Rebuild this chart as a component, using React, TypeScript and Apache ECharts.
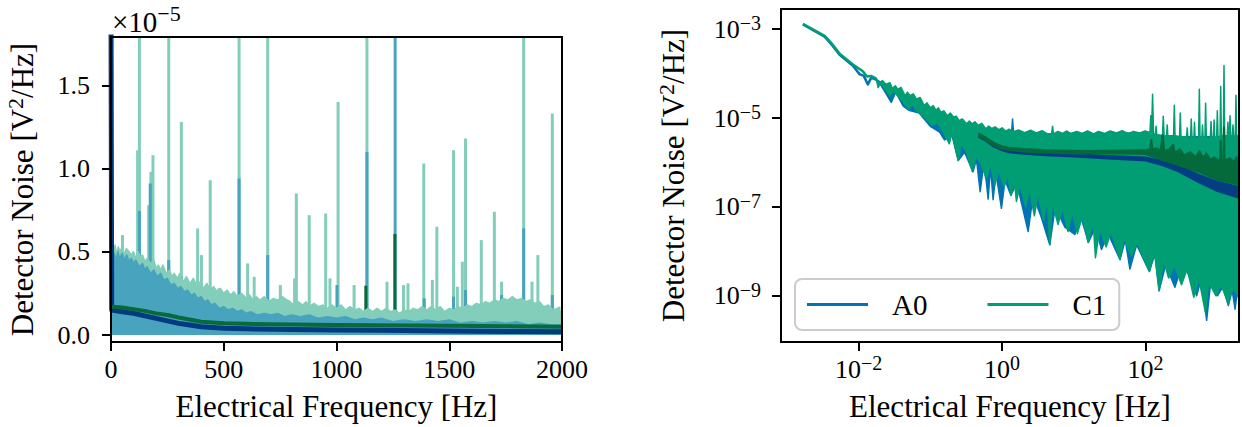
import React, { useEffect, useRef } from "react";
import * as echarts from "echarts";

const FONT = '"Liberation Serif", "Times New Roman", serif';

// ---------- Left panel (linear), values in units of 1e-5 V^2/Hz ----------
const c1FloorLin: number[][] = [[0,0.65],[4,0.52],[8,0.55],[12,0.50],[18,0.54],[25,0.48],[32,0.53],[40,0.50],[46,0.52],[60,0.49],[68,0.52],[80,0.50],[90,0.48],[100,0.50],[110,0.46],[120,0.50],[130,0.47],[140,0.48],[150,0.44],[160,0.46],[175,0.43],[190,0.45],[200,0.40],[210,0.42],[220,0.39],[230,0.42],[245,0.37],[260,0.39],[270,0.35],[280,0.37],[295,0.34],[305,0.37],[320,0.32],[335,0.35],[350,0.31],[365,0.34],[380,0.30],[395,0.32],[410,0.28],[425,0.31],[440,0.27],[455,0.29],[470,0.26],[485,0.28],[500,0.25],[515,0.27],[530,0.24],[545,0.26],[560,0.23],[580,0.25],[600,0.22],[615,0.24],[630,0.21],[645,0.23],[660,0.21],[680,0.23],[700,0.20],[720,0.22],[740,0.21],[760,0.23],[780,0.21],[795,0.20],[810,0.18],[830,0.20],[850,0.18],[865,0.20],[880,0.17],[900,0.19],[920,0.17],[940,0.18],[960,0.16],[980,0.18],[1000,0.16],[1020,0.18],[1040,0.15],[1060,0.17],[1080,0.15],[1100,0.16],[1120,0.14],[1140,0.16],[1160,0.14],[1180,0.16],[1200,0.14],[1220,0.16],[1240,0.14],[1260,0.15],[1280,0.13],[1300,0.15],[1320,0.14],[1340,0.16],[1360,0.15],[1380,0.17],[1400,0.15],[1420,0.17],[1440,0.15],[1460,0.17],[1480,0.14],[1500,0.16],[1520,0.15],[1540,0.17],[1560,0.16],[1580,0.18],[1600,0.17],[1620,0.19],[1640,0.18],[1660,0.20],[1680,0.19],[1700,0.21],[1720,0.20],[1740,0.22],[1760,0.21],[1780,0.23],[1800,0.21],[1820,0.22],[1840,0.20],[1860,0.21],[1880,0.19],[1900,0.20],[1920,0.17],[1940,0.18],[1960,0.15],[1980,0.16],[2000,0.13]];
const c1SpikesLin: number[][] = [[51,0.60],[118,1.11],[126,2.0],[167,0.78],[177,0.98],[186,1.08],[256,2.0],[312,1.28],[384,0.64],[401,0.48],[440,0.93],[478,0.28],[568,2.0],[606,0.43],[635,0.35],[695,2.0],[751,0.30],[814,0.34],[822,0.85],[879,0.72],[952,0.73],[971,0.34],[1007,1.40],[1078,0.30],[1135,2.0],[1224,0.32],[1297,0.30],[1317,0.31],[1387,1.03],[1425,0.33],[1445,0.65],[1519,1.11],[1536,0.29],[1558,0.44],[1572,1.18],[1642,0.57],[1700,0.74],[1732,0.32],[1830,2.0],[1867,0.32],[1893,0.48],[1957,1.33],[1987,0.17]];
const a0FloorLin: number[][] = [[0,0.60],[5,0.48],[10,0.45],[15,0.49],[22,0.44],[30,0.50],[38,0.46],[50,0.49],[58,0.45],[70,0.48],[80,0.44],[90,0.46],[100,0.43],[110,0.45],[125,0.41],[140,0.43],[150,0.39],[160,0.41],[175,0.37],[190,0.39],[205,0.35],[220,0.37],[235,0.33],[250,0.34],[265,0.30],[280,0.31],[295,0.28],[310,0.29],[325,0.26],[340,0.27],[355,0.24],[370,0.25],[385,0.22],[400,0.23],[415,0.20],[430,0.21],[445,0.18],[460,0.19],[480,0.16],[500,0.17],[520,0.15],[540,0.16],[560,0.14],[580,0.15],[600,0.13],[620,0.14],[650,0.12],[680,0.13],[710,0.12],[740,0.13],[770,0.11],[800,0.12],[840,0.11],[880,0.12],[920,0.10],[960,0.11],[1000,0.10],[1040,0.11],[1080,0.09],[1120,0.10],[1160,0.09],[1200,0.10],[1250,0.08],[1300,0.09],[1350,0.08],[1400,0.09],[1450,0.08],[1500,0.09],[1550,0.07],[1600,0.08],[1650,0.07],[1700,0.08],[1750,0.07],[1800,0.08],[1850,0.06],[1900,0.07],[1950,0.06],[2000,0.06]];
const a0SpikesLin: number[][] = [[126,0.745],[174,0.91],[184,0.42],[256,0.45],[312,0.35],[568,0.94],[695,0.48],[1002,0.30],[1135,1.10],[1260,2.0],[1389,0.22],[1519,0.23],[1572,0.27],[1732,0.24],[1830,0.64],[1957,0.24]];
const a0SmoothLin: number[][] = [[0,2.0],[3,0.15],[50,0.14],[100,0.13],[150,0.115],[200,0.10],[250,0.085],[300,0.07],[350,0.06],[400,0.05],[500,0.04],[600,0.037],[800,0.033],[1000,0.03],[1200,0.028],[1500,0.024],[1800,0.021],[2000,0.02]];
const c1SmoothSpikesLin: number[][] = [[126,0.305],[175,0.395],[186,0.216],[254,0.21],[306,0.19],[383,0.137],[401,0.167],[566,0.14],[603,0.15],[692,0.167],[821,0.11],[876,0.12],[949,0.13],[1002,0.157],[1130,0.296],[1219,0.12],[1259,0.607],[1442,0.107],[1512,0.137],[1558,0.137],[1571,0.15],[1645,0.09],[1727,0.11],[1826,0.107],[1864,0.117],[1950,0.1]];
const c1SmoothLin: number[][] = [[0,0.17],[50,0.165],[100,0.155],[150,0.145],[200,0.13],[250,0.12],[300,0.105],[400,0.08],[500,0.07],[700,0.065],[1000,0.06],[1500,0.055],[2000,0.05]];
const linYTicks = [0, 0.5, 1.0, 1.5];

// ---------- Right panel (log-log), [Hz, V^2/Hz] ----------
const a0LowLine: number[][] = [[0.00168,1.27e-3],[0.00337,6.8e-4],[0.00418,4.6e-4],[0.00545,2.65e-4],[0.00836,1.5e-4],[0.0104,9.6e-5],[0.0118,9.0e-5],[0.0135,5.7e-5],[0.0150,8.0e-5],[0.0177,7.3e-5]];
const c1LowLine: number[][] = [[0.00168,1.31e-3],[0.00337,7.1e-4],[0.00418,4.86e-4],[0.00545,2.81e-4],[0.00836,1.6e-4],[0.0115,1.13e-4],[0.0131,8.6e-5],[0.0151,8.8e-5],[0.0177,7.7e-5]];
const a0BandTop: number[][] = [[0.0177,7.3e-5],[0.024,5.5e-5],[0.0307,4.2e-5],[0.0446,3.0e-5],[0.0644,2.5e-5],[0.0824,1.7e-5],[0.12,1.5e-5],[0.173,1.05e-5],[0.25,8.3e-6],[0.32,7.0e-6],[0.47,6.6e-6],[0.6,5.4e-6],[0.86,5.6e-6],[1.3,5.0e-6],[1.36,5.0e-6],[1.40,9.5e-6],[1.44,5.0e-6],[2.05,4.6e-6],[4.3,4.3e-6],[9,4.4e-6],[19,4.2e-6],[40,4.6e-6],[83,4.5e-6],[120,4.2e-6],[300,3.8e-6],[800,3.8e-6],[2000,3.5e-6]];
const a0BandBottom: number[][] = [[0.0177,7.0e-5],[0.0205,5.5e-5],[0.0286,2.24e-5],[0.033,3.8e-5],[0.0417,1.88e-5],[0.05,1.5e-5],[0.07,1.3e-5],[0.1,6.5e-6],[0.135,4.8e-6],[0.158,3.2e-6],[0.2,4.2e-6],[0.245,1.1e-6],[0.3,1.7e-6],[0.394,6.2e-7],[0.44,1.2e-6],[0.495,2.2e-7],[0.55,8e-7],[0.6,4.0e-7],[0.64,1.5e-7],[0.69,8e-7],[0.75,1.45e-7],[0.82,6e-7],[0.98,9.3e-8],[1.1,4e-7],[1.33,1.8e-7],[1.6,3.5e-7],[2.31,2.8e-8],[2.7,1.8e-7],[3.5,6e-8],[4.62,1.4e-8],[5.5,1.0e-7],[7.5,3.5e-8],[10.3,2.4e-8],[12.5,6e-8],[16,1.6e-8],[20,3.5e-8],[24.3,1.1e-8],[30,2.5e-8],[44,6.5e-9],[52,1.8e-8],[60.4,4.0e-9],[75,1.4e-8],[113,3.5e-9],[135,9e-9],[154,1.3e-9],[190,5e-9],[256,1.55e-9],[300,3.5e-9],[380,3.5e-9],[514,1.0e-9],[600,2.5e-9],[708,2.8e-10],[800,1.8e-9],[1000,1.0e-9],[1200,1.6e-9],[1419,6.0e-10],[1600,1.4e-9],[1762,5.0e-10],[1900,1.3e-9],[2000,8e-10]];
const c1BandTop: number[][] = [[0.0177,7.7e-5],[0.0195,6.0e-5],[0.0215,7.0e-5],[0.024,5.75e-5],[0.0275,6.2e-5],[0.0295,4.6e-5],[0.0325,5.3e-5],[0.0355,4.4e-5],[0.039,4.9e-5],[0.0446,3.16e-5],[0.048,3.8e-5],[0.052,3.2e-5],[0.058,3.5e-5],[0.0644,2.65e-5],[0.072,2.9e-5],[0.0824,1.9e-5],[0.09,2.2e-5],[0.1,1.7e-5],[0.11,1.9e-5],[0.1197,1.5e-5],[0.13,1.7e-5],[0.14,1.35e-5],[0.155,1.45e-5],[0.173,1.12e-5],[0.19,1.3e-5],[0.21,1.05e-5],[0.23,1.1e-5],[0.251,8.7e-6],[0.28,9.5e-6],[0.321,7.4e-6],[0.35,8.6e-6],[0.38,7.4e-6],[0.42,8.2e-6],[0.466,6.8e-6],[0.52,7.6e-6],[0.596,5.7e-6],[0.65,6.6e-6],[0.72,5.8e-6],[0.8,6.3e-6],[0.9,5.4e-6],[1.0,6.0e-6],[1.12,5.0e-6],[1.25,5.6e-6],[1.45,4.9e-6],[1.7,5.4e-6],[2.05,4.7e-6],[2.5,5.3e-6],[3,4.6e-6],[3.6,5.2e-6],[4.3,4.4e-6],[4.9,4.4e-6],[5.05,6.5e-6],[5.2,4.4e-6],[6,5.0e-6],[7,4.5e-6],[8,5.1e-6],[9,4.5e-6],[11,5.0e-6],[13,4.5e-6],[15.5,5.1e-6],[18.9,4.4e-6],[22,5.0e-6],[27,4.5e-6],[32,5.1e-6],[39.6,4.6e-6],[47,5.2e-6],[57,4.5e-6],[68,5.0e-6],[83,4.6e-6],[98,5.1e-6],[115,4.7e-6],[118,1.12e-5],[121,5.0e-6],[125,3.43e-5],[129,4.5e-6],[137,4.2e-6],[140,6.5e-6],[143,4.2e-6],[172,4.0e-6],[176,1.1e-5],[181,4.0e-6],[196,4.0e-6],[200,7.0e-6],[204,4.0e-6],[245,4.0e-6],[251,1.95e-5],[257,4.0e-6],[297,3.8e-6],[304,1.29e-5],[311,3.8e-6],[372,3.8e-6],[380,6.0e-6],[388,3.6e-6],[423,3.5e-6],[432,9.5e-6],[443,3.5e-6],[470,3.5e-6],[480,8.0e-6],[490,3.5e-6],[547,3.5e-6],[560,4.44e-5],[573,3.5e-6],[607,3.5e-6],[620,7.0e-6],[633,3.5e-6],[670,3.5e-6],[685,2.16e-5],[701,3.5e-6],[796,3.5e-6],[815,8.3e-6],[834,3.5e-6],[880,3.5e-6],[900,9.0e-6],[920,3.5e-6],[975,3.5e-6],[998,1.45e-5],[1021,3.6e-6],[1089,4.0e-6],[1112,5.1e-5],[1135,4.0e-6],[1211,4.0e-6],[1236,1.52e-4],[1262,4.0e-6],[1370,4.0e-6],[1400,8.0e-6],[1430,4.0e-6],[1469,4.0e-6],[1500,1.12e-5],[1531,4.0e-6],[1615,4.0e-6],[1650,7.0e-6],[1685,4.0e-6],[1778,4.0e-6],[1816,3.26e-5],[1854,4.0e-6],[2000,4.0e-6]];
const c1BandBottom: number[][] = [[0.0177,7.4e-5],[0.01875,4.83e-5],[0.0204,6.3e-5],[0.0272,3.16e-5],[0.0302,4.0e-5],[0.0393,2.65e-5],[0.0504,1.58e-5],[0.0562,2.0e-5],[0.066,1.41e-5],[0.0794,1.12e-5],[0.1054,6.8e-6],[0.126,7.9e-6],[0.153,4.8e-6],[0.184,2.63e-6],[0.2,4.5e-6],[0.245,1.12e-6],[0.269,2.8e-6],[0.316,1.78e-6],[0.386,6.2e-7],[0.427,1.41e-6],[0.5,1.0e-6],[0.603,4.5e-7],[0.69,8.9e-7],[0.794,3.1e-7],[0.89,7.1e-7],[1.07,2.8e-7],[1.2,5.6e-7],[1.33,1.85e-7],[1.48,4.0e-7],[1.585,1.32e-7],[1.78,3.2e-7],[2.14,1.0e-7],[2.4,2.5e-7],[2.82,6.3e-8],[3.16,2.0e-7],[3.8,5.0e-8],[4.27,1.58e-7],[4.62,1.41e-8],[5.0,1.26e-7],[6.03,4.0e-8],[6.9,1.0e-7],[8.3,2.8e-8],[9.55,7.9e-8],[11.2,2.5e-8],[13.2,6.3e-8],[15.8,1.58e-8],[18.6,4.5e-8],[20,7.2e-9],[22.9,3.2e-8],[28.2,1.26e-8],[33.1,2.8e-8],[43.8,6.6e-9],[50,2.0e-8],[63,7.9e-9],[76,1.58e-8],[113,3.6e-9],[132,1.0e-8],[154,1.3e-9],[178,6.3e-9],[209,2.5e-9],[251,5.0e-9],[316,1.78e-9],[380,4.0e-9],[469,9.2e-10],[550,2.5e-9],[679,4.3e-10],[759,2.0e-9],[955,1.0e-9],[1122,1.78e-9],[1429,6.5e-10],[1660,1.58e-9],[2000,9.2e-10]];
const a0SmoothTop: number[][] = [[0.48,4.3e-6],[0.6,3.5e-6],[0.76,2.65e-6],[1,2.15e-6],[1.25,1.95e-6],[2,1.78e-6],[4,1.65e-6],[10,1.55e-6],[30,1.4e-6],[100,1.3e-6],[175,1.07e-6],[286,8.4e-7],[531,5.4e-7],[984,3.7e-7],[2000,2.8e-7]];
const a0SmoothBottom: number[][] = [[0.48,3.7e-6],[0.6,3.05e-6],[0.76,2.3e-6],[1,1.88e-6],[1.25,1.7e-6],[2,1.56e-6],[4,1.45e-6],[10,1.36e-6],[30,1.22e-6],[100,1.1e-6],[175,8.6e-7],[286,6.3e-7],[531,3.7e-7],[984,2.3e-7],[2000,1.6e-7]];
const c1SmoothTop: number[][] = [[0.48,4.4e-6],[0.6,3.6e-6],[0.76,2.8e-6],[1,2.3e-6],[1.25,2.15e-6],[2,2.0e-6],[3.8,1.9e-6],[13,1.82e-6],[45,1.85e-6],[100,1.9e-6],[115,1.95e-6],[120,3.2e-6],[124,1.95e-6],[140,2.1e-6],[160,1.8e-6],[173,4.1e-6],[182,1.8e-6],[215,2.0e-6],[243,2.5e-6],[255,1.6e-6],[301,2.0e-6],[340,1.45e-6],[420,1.7e-6],[500,1.3e-6],[560,1.8e-6],[640,1.25e-6],[700,1.6e-6],[800,1.15e-6],[900,1.3e-6],[1090,1.05e-6],[1112,3.1e-6],[1135,1.05e-6],[1211,1.1e-6],[1236,6.2e-6],[1262,1.1e-6],[1500,1.25e-6],[1700,1.0e-6],[1850,1.3e-6],[2000,1.1e-6]];
const c1SmoothBottom: number[][] = [[0.48,3.9e-6],[0.6,3.15e-6],[0.76,2.45e-6],[1,2.05e-6],[1.25,1.9e-6],[2,1.76e-6],[3.8,1.68e-6],[13,1.6e-6],[45,1.6e-6],[100,1.55e-6],[126,1.35e-6],[180,1.1e-6],[300,8.5e-7],[572,6.0e-7],[984,4.1e-7],[2000,3.2e-7]];
const logXTicks = [-2, 0, 2];
const logYTicks = [-9, -7, -5, -3];

const MINT = "#82ceba";
const TEAL = "#47a3be";
const NAVY = "#023a80";
const DKGREEN = "#08693b";
const A0C = "#0173b2";
const C1C = "#029e73";
const NAVY2 = "#033d82";
const DKGREEN2 = "#046a3c";

const toLog = (p: number[][]) => p.map(([f, v]) => [Math.log10(f), Math.log10(v)]);
const supNum = (n: number) => (n < 0 ? "\u2212" + -n : String(n));

function band(name: string, top: number[][], bottom: number[][], color: string, lw: number) {
  const t = toLog(top);
  const b = toLog(bottom).reverse();
  return {
    type: "custom",
    name,
    xAxisIndex: 2,
    yAxisIndex: 2,
    clip: true,
    silent: true,
    itemStyle: { color },
    data: [t[0]],
    renderItem: (params: any, api: any) => {
      if (params.dataIndex !== 0) return null;
      const pts = t.concat(b).map((p) => api.coord(p));
      return {
        type: "polygon",
        shape: { points: pts },
        style: { fill: color, stroke: color, lineWidth: lw, lineJoin: "round" },
      };
    },
  };
}

const axisLineStyle = { show: true, onZero: false, lineStyle: { color: "#000", width: 2 } };
const tickStyle = { show: true, length: 9, lineStyle: { color: "#000", width: 2 } };
const supRich = {
  b: { fontSize: 26, fontFamily: FONT, color: "#000" },
  s: { fontSize: 20, fontFamily: FONT, color: "#000", padding: [0, 0, 12, 0] },
};
const titleRich = {
  t: { fontSize: 31, fontFamily: FONT, color: "#000" },
  s: { fontSize: 22, fontFamily: FONT, color: "#000", padding: [0, 0, 14, 0] },
};

function frameAxis(gridIndex: number, position: string, min: number, max: number) {
  return {
    type: "value",
    gridIndex,
    position,
    min,
    max,
    z: 10,
    axisLine: axisLineStyle,
    axisTick: { show: false },
    axisLabel: { show: false },
    splitLine: { show: false },
  };
}

export default function App() {
  const ref = useRef<HTMLDivElement>(null);
  useEffect(() => {
    if (!ref.current) return;
    const chart = echarts.init(ref.current, undefined, { renderer: "svg" });
    const lineS = (name: string, data: number[][], color: string, width: number, xi: number, yi: number, area?: boolean) => ({
      type: "line",
      name,
      xAxisIndex: xi,
      yAxisIndex: yi,
      data,
      symbol: "none",
      silent: true,
      clip: true,
      lineStyle: { color, width, join: "round" },
      itemStyle: { color },
      areaStyle: area ? { color, opacity: 1 } : undefined,
    });
    const barS = (name: string, data: number[][], color: string, w: number) => ({
      type: "bar",
      name,
      xAxisIndex: 0,
      yAxisIndex: 0,
      data,
      barWidth: w,
      barGap: "-100%",
      silent: true,
      clip: true,
      itemStyle: { color },
    });

    const option: any = {
      animation: false,
      backgroundColor: "#ffffff",
      textStyle: { fontFamily: FONT },
      grid: [
        { left: 111, top: 37, width: 451, height: 308, containLabel: false },
        { left: 781, top: 9, width: 458, height: 336, containLabel: false },
      ],
      xAxis: [
        {
          type: "value",
          gridIndex: 0,
          position: "bottom",
          min: 0,
          max: 2000,
          interval: 500,
          z: 10,
          axisLine: axisLineStyle,
          axisTick: tickStyle,
          axisLabel: {
            fontSize: 26,
            fontFamily: FONT,
            color: "#000",
            margin: 14,
            formatter: (v: number) => String(v),
          },
          splitLine: { show: false },
          name: "Electrical Frequency [Hz]",
          nameLocation: "middle",
          nameGap: 49,
          nameTextStyle: { fontSize: 31, fontFamily: FONT, color: "#000" },
        },
        frameAxis(0, "top", 0, 2000),
        {
          type: "value",
          gridIndex: 1,
          position: "bottom",
          min: -3.08,
          max: 3.301,
          z: 10,
          axisLine: axisLineStyle,
          axisTick: { ...tickStyle, customValues: logXTicks },
          axisLabel: {
            customValues: logXTicks,
            margin: 11,
            formatter: (v: number) => "{b|10}{s|" + supNum(Math.round(v)) + "}",
            rich: supRich,
          },
          splitLine: { show: false },
          name: "Electrical Frequency [Hz]",
          nameLocation: "middle",
          nameGap: 49,
          nameTextStyle: { fontSize: 31, fontFamily: FONT, color: "#000" },
        },
        frameAxis(1, "top", -3.08, 3.301),
      ],
      yAxis: [
        {
          type: "value",
          gridIndex: 0,
          position: "left",
          min: -0.042,
          max: 1.79,
          z: 10,
          axisLine: axisLineStyle,
          axisTick: { ...tickStyle, customValues: linYTicks },
          axisLabel: {
            customValues: linYTicks,
            fontSize: 26,
            fontFamily: FONT,
            color: "#000",
            margin: 21,
            formatter: (v: number) => v.toFixed(1),
          },
          splitLine: { show: false },
          name: "{t|Detector Noise [V}{s|2}{t|/Hz]}",
          nameLocation: "middle",
          nameGap: 71,
          nameTextStyle: { rich: titleRich },
        },
        frameAxis(0, "right", -0.042, 1.79),
        {
          type: "value",
          gridIndex: 1,
          position: "left",
          min: -10.04,
          max: -2.547,
          z: 10,
          axisLine: axisLineStyle,
          axisTick: { ...tickStyle, customValues: logYTicks },
          axisLabel: {
            customValues: logYTicks,
            margin: 20,
            formatter: (v: number) => "{b|10}{s|" + supNum(Math.round(v)) + "}",
            rich: supRich,
          },
          splitLine: { show: false },
          name: "{t|Detector Noise [V}{s|2}{t|/Hz]}",
          nameLocation: "middle",
          nameGap: 90,
          nameTextStyle: { rich: titleRich },
        },
        frameAxis(1, "right", -10.04, -2.547),
      ],
      legend: {
        left: 795,
        top: 279,
        orient: "horizontal",
        data: [
          { name: "A0", icon: "rect", itemStyle: { color: A0C } },
          { name: "C1", icon: "rect", itemStyle: { color: C1C } },
        ],
        itemWidth: 61,
        itemHeight: 3,
        itemGap: 60,
        padding: [11, 13, 11, 12],
        backgroundColor: "rgba(255,255,255,0.8)",
        borderColor: "#cccccc",
        borderWidth: 2,
        borderRadius: 7,
        selectedMode: false,
        textStyle: { fontFamily: FONT, fontSize: 29, color: "#000", padding: [0, 0, 0, 19] },
        z: 20,
      },
      graphic: [
        {
          type: "text",
          left: 112,
          top: 2,
          z: 20,
          style: {
            text: "{b|\u00d710}{s|\u22125}",
            rich: {
              b: { fontSize: 29, fontFamily: FONT, fill: "#000" },
              s: { fontSize: 22, fontFamily: FONT, fill: "#000", padding: [0, 0, 17, 0] },
            },
          },
        },
      ],
      series: [
        // left panel
        lineS("C1 raw", c1FloorLin, MINT, 1.5, 0, 0, true),
        barS("C1 raw spikes", c1SpikesLin, MINT, 3),
        lineS("A0 raw", a0FloorLin, TEAL, 1.5, 0, 0, true),
        barS("A0 raw spikes", a0SpikesLin, TEAL, 3),
        lineS("A0 mean", a0SmoothLin, NAVY, 5, 0, 0),
        barS("C1 mean spikes", c1SmoothSpikesLin, DKGREEN, 3),
        lineS("C1 mean", c1SmoothLin, DKGREEN, 4, 0, 0),
        // right panel
        lineS("A0", toLog(a0LowLine), A0C, 2.5, 2, 2),
        band("A0", a0BandTop, a0BandBottom, A0C, 1.5),
        lineS("C1", toLog(c1LowLine), C1C, 2.5, 2, 2),
        band("C1", c1BandTop, c1BandBottom, C1C, 1.5),
        band("A0 mean", a0SmoothTop, a0SmoothBottom, NAVY2, 2),
        band("C1 mean", c1SmoothTop, c1SmoothBottom, DKGREEN2, 2),
      ],
    };
    chart.setOption(option);
    return () => chart.dispose();
  }, []);
  return (
    <div
      ref={ref}
      style={{ position: "fixed", left: 0, top: 0, width: 1242, height: 427, background: "#fff" }}
    />
  );
}
